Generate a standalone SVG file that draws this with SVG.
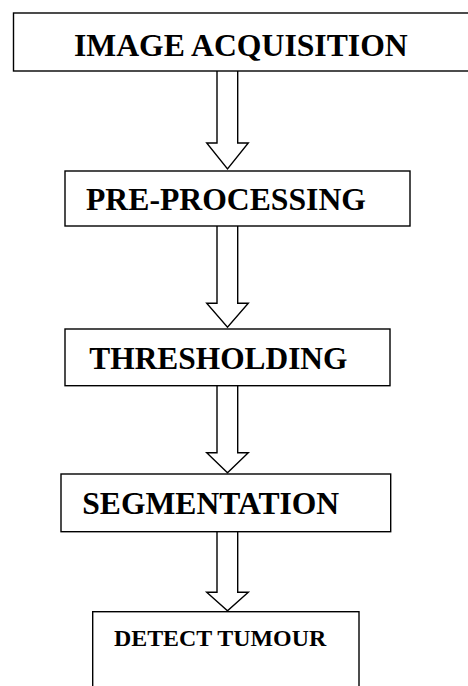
<svg xmlns="http://www.w3.org/2000/svg" width="468" height="686" viewBox="0 0 468 686">
<style>
.box{fill:#fff;stroke:#000;stroke-width:1.4}
.arr{fill:#fff;stroke:#000;stroke-width:1.4;stroke-linejoin:miter}
.t{font-family:"Liberation Serif","Times New Roman",serif;font-weight:bold;fill:#000}
</style>
<rect width="468" height="686" fill="#fff"/>
<g id="connectors">
<path class="arr" d="M217,71 V143 H206.7 L227.5,169 L248.3,143 H237.7 V71"/>
<path class="arr" d="M217,226 V303.3 H206.7 L227.5,327.3 L248.3,303.3 H237.7 V226"/>
<path class="arr" d="M217,386 V452.7 H206.7 L227.5,472.7 L248.3,452.7 H237.7 V386"/>
<path class="arr" d="M217,532 V592.3 H206.7 L227.5,610.7 L248.3,592.3 H237.7 V532"/>
</g>
<g id="node-image-acquisition">
<rect class="box" x="13.5" y="13" width="470" height="58"/>
<text class="t" x="74" y="55.5" font-size="31.7">IMAGE ACQUISITION</text>
</g>
<g id="node-pre-processing">
<rect class="box" x="65" y="171" width="345" height="55"/>
<text class="t" x="86" y="210" font-size="31.7">PRE-PROCESSING</text>
</g>
<g id="node-thresholding">
<rect class="box" x="65" y="329" width="325" height="56.7"/>
<text class="t" x="89.3" y="369" font-size="31.4">THRESHOLDING</text>
</g>
<g id="node-segmentation">
<rect class="box" x="61" y="474" width="329.7" height="57.7"/>
<text class="t" x="82.3" y="514" font-size="31.6">SEGMENTATION</text>
</g>
<g id="node-detect-tumour">
<rect class="box" x="92.7" y="611.7" width="266.3" height="100"/>
<text class="t" x="114" y="645.7" font-size="23.9">DETECT TUMOUR</text>
</g>
</svg>
